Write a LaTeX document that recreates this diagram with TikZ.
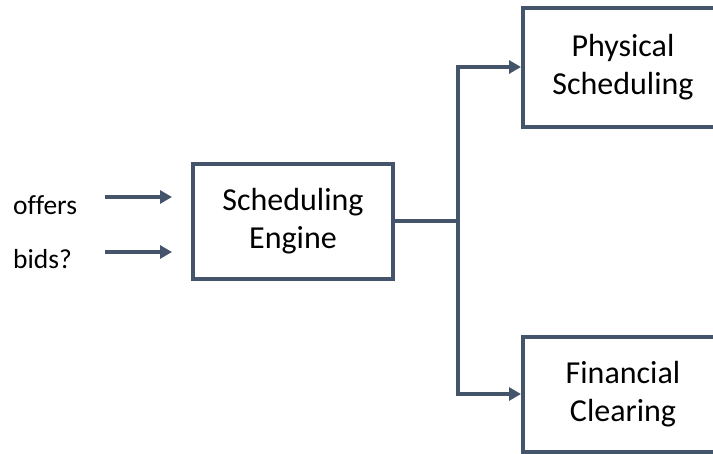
\documentclass[tikz,border=0pt]{standalone}
\usepackage{fontspec}
\setmainfont[Ligatures=NoCommon]{Carlito}
\usetikzlibrary{arrows.meta}
\definecolor{linec}{HTML}{44546A}
\begin{document}
\begin{tikzpicture}[x=1pt,y=-1pt,
  box/.style={draw=linec,line width=4pt,minimum width=200pt,align=center,
    font=\fontsize{32}{38}\selectfont,inner sep=0pt},
  lbl/.style={font=\fontsize{27.5}{32}\selectfont,inner sep=0pt,anchor=west},
  arr/.style={draw=linec,line width=4pt,-{Triangle[length=12pt,width=13pt]}},
  ln/.style={draw=linec,line width=4pt}]
\useasboundingbox (0,0) rectangle (713,453);
\clip (0,0) rectangle (713,453);
\node[box,minimum height=115pt] (engine) at (293,221) {Scheduling\\Engine};
\node[box,minimum height=119pt] (phys) at (623,67) {Physical\\Scheduling};
\node[box,minimum height=115pt] (fin) at (623,394) {Financial\\Clearing};
\node[lbl] (offers) at (13,205) {offers};
\node[lbl] (bids) at (13,259) {bids?};
\coordinate (o1) at (105,197);
\coordinate (o2) at (172,197);
\coordinate (b1) at (105,252);
\coordinate (b2) at (172,252);
\coordinate (split) at (458,221);
\draw[arr] (o1) -- (o2);
\draw[arr] (b1) -- (b2);
\draw[ln] (engine.east) -- (split);
\draw[arr] (split) |- (phys.west);
\draw[arr] (split) |- (fin.west);
\end{tikzpicture}
\end{document}
